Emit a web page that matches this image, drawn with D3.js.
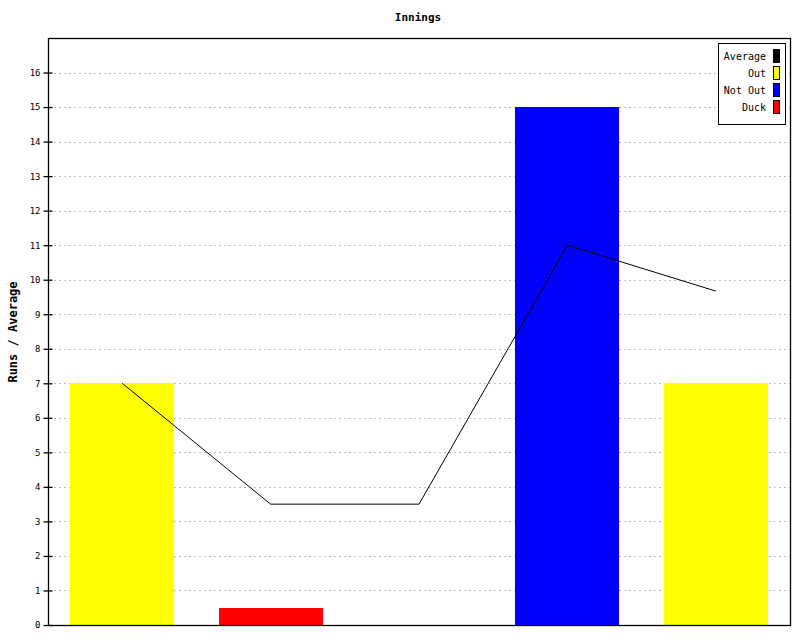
<!DOCTYPE html>
<html><head><meta charset="utf-8">
<script src="https://cdn.jsdelivr.net/npm/d3@7"></script>
<style>body{margin:0;background:#fff}svg{display:block}text{font-family:"DejaVu Sans Mono",monospace}</style>
</head><body>
<script>
const innings = ["1", "2", "3", "4", "5"];
const runs = [7, 0.5, 0, 15, 7];
const status = ["Out", "Duck", "Duck", "Not Out", "Out"];
const average = [7, 3.5, 3.5, 11, 9.67];
const yTicks = [0,1,2,3,4,5,6,7,8,9,10,11,12,13,14,15,16];
const legendLabels = ["Average", "Out", "Not Out", "Duck"];
const colors = {"Average": "#000000", "Out": "#ffff00", "Not Out": "#0000ff", "Duck": "#ff0000"};

const W = 800, H = 640;
const m = {left: 48, right: 10, top: 38, bottom: 15};
const svg = d3.select("body").append("svg").attr("width", W).attr("height", H);

const x = d3.scaleBand().domain(innings).range([m.left, W - m.right]).paddingInner(0.3).paddingOuter(0.15);
const y = d3.scaleLinear().domain([0, 17]).range([H - m.bottom, m.top]);

// grid
svg.append("g").selectAll("line").data(yTicks.filter(d => d > 0)).join("line")
  .attr("x1", m.left + 6).attr("x2", W - m.right)
  .attr("y1", d => Math.round(y(d)) + 0.5).attr("y2", d => Math.round(y(d)) + 0.5)
  .attr("stroke", "#c0c0c0").attr("stroke-dasharray", "2,3");

// bars
svg.append("g").selectAll("rect").data(innings.map((d, i) => ({k: d, v: runs[i], s: status[i]})).filter(d => d.v > 0)).join("rect")
  .attr("x", d => Math.round(x(d.k))).attr("width", Math.round(x.bandwidth()))
  .attr("y", d => Math.round(y(d.v))).attr("height", d => Math.round(y(0)) - Math.round(y(d.v)))
  .attr("fill", d => colors[d.s]);

// average line
const line = d3.line().x((d, i) => x(innings[i]) + x.bandwidth() / 2).y(d => y(d));
svg.append("path").datum(average).attr("d", line).attr("fill", "none").attr("stroke", "#000").attr("stroke-width", 1);

// frame
svg.append("rect").attr("x", m.left + 0.5).attr("y", m.top + 0.5)
  .attr("width", W - m.right - m.left).attr("height", H - m.bottom - m.top)
  .attr("fill", "none").attr("stroke", "#000").attr("stroke-width", 1.3);

// y axis
const ax = svg.append("g").attr("transform", `translate(${m.left + 0.5},0)`)
  .call(d3.axisLeft(y).tickValues(yTicks).tickSize(5).tickFormat(d3.format("d")));
ax.select(".domain").remove();
ax.selectAll(".tick line").attr("x1", 4).attr("x2", -5).attr("stroke", "#000").attr("stroke-width", 1.3);
ax.selectAll(".tick text").attr("x", -8).attr("font-size", 9).attr("font-family", "DejaVu Sans Mono").attr("fill", "#000");

// title
svg.append("text").attr("x", 418).attr("y", 21).attr("text-anchor", "middle")
  .attr("font-size", 11).attr("font-weight", "bold").text("Innings");

// y label
svg.append("text").attr("transform", "translate(17,332) rotate(-90)").attr("text-anchor", "middle")
  .attr("font-size", 12).attr("font-weight", "bold").text("Runs / Average");

// legend
const lg = svg.append("g");
lg.append("rect").attr("x", 718.5).attr("y", 43.5).attr("width", 67).attr("height", 81)
  .attr("fill", "#fff").attr("stroke", "#000");
legendLabels.forEach((l, i) => {
  const cy = 56 + i * 17;
  lg.append("text").attr("x", 766).attr("y", cy + 4).attr("text-anchor", "end").attr("font-size", 10).text(l);
  lg.append("rect").attr("x", 773.5).attr("y", cy - 6.5).attr("width", 6).attr("height", 13)
    .attr("fill", colors[l]).attr("stroke", "#000");
});
</script>
</body></html>
